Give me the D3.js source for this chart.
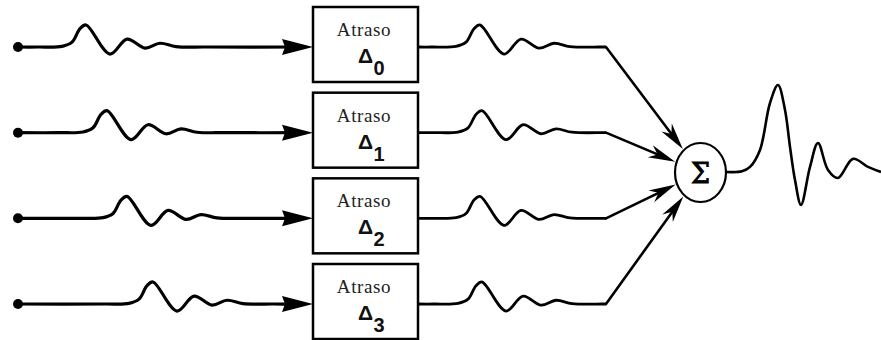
<!DOCTYPE html>
<html>
<head>
<meta charset="utf-8">
<script src="https://cdn.jsdelivr.net/npm/d3@7"></script>
<style>
  html, body { margin: 0; padding: 0; background: #fff; }
  svg { display: block; }
</style>
</head>
<body>
<svg id="fig" width="881" height="340"></svg>
<script>
// Delay-and-sum: four sensor channels, each passed through a delay block,
// then added together in a summing node.
const channels = [0, 1, 2, 3];
const delayLabels = ["0", "1", "2", "3"];
const boxTitle = "Atraso";
const sumSymbol = "\u03A3";
const deltaSymbol = "\u0394";

// One wavelet: time relative to its main peak, and normalised amplitude
const waveT = [-2.4, -1.2, -0.7, -0.3, 0, 1.2, 2.05, 2.95, 3.7, 4.5, 6];
const waveA = [0, 0.03, 0.22, 0.83, 1, -0.32, 0.36, -0.05, 0.17, 0.02, 0];

// Time of the wavelet peak on each input line (arrives later on each sensor)
const arrivalT = [3.4, 4.45, 5.45, 6.75];
// Time of the wavelet peak on each output line (after the delays: aligned)
const alignedT = [3.1, 3.2, 3.1, 3.2];

// Summed trace leaving the summing node
const sumT = [0, 0.8, 1.2, 1.7, 2.2, 2.6, 2.95, 3.2, 3.45, 3.75, 4.2, 4.6, 5.1, 5.6, 6.35, 7.1, 7.75];
const sumA = [0, 0.03, 0.22, 0.96, 3.0, 3.78, 2.7, 1.09, -0.35, -1.43, 0.22, 1.26, 0.09, -0.26, 0.57, 0.22, 0];

const svg = d3.select("#fig");

// Scales
const rowY = d3.scalePoint().domain(channels).range([47, 304]);
const amp = d3.scaleLinear().domain([0, 1]).range([0, -22]);
const xIn = d3.scaleLinear().domain([0, 14.75]).range([18, 313]);
const xOut = d3.scaleLinear().domain([0, 9.4]).range([418, 606]);
const xSum = d3.scaleLinear().domain([0, 7.75]).range([726, 881]);
const ySum = d3.scaleLinear().domain([0, 1]).range([172, 149]);

const smooth = d3.curveCatmullRom.alpha(0.5);

const node = { cx: 700.5, cy: 172.5, rx: 25.5, ry: 29.5 };
const box = { x: 313, w: 105, top: -40, h: 75 };

function trace(peakT, tEnd) {
  const pts = [[0, 0]];
  waveT.forEach((t, k) => pts.push([peakT + t, waveA[k]]));
  pts.push([tEnd, 0]);
  return pts;
}

function arrowHead(tx, ty, ux, uy, L, W, N) {
  const px = -uy, py = ux;
  const bx = tx - ux * L, by = ty - uy * L;
  return [
    [tx, ty],
    [bx + px * W, by + py * W],
    [tx - ux * (L - N), ty - uy * (L - N)],
    [bx - px * W, by - py * W]
  ];
}

const poly = d3.line().curve(d3.curveLinearClosed);

channels.forEach(i => {
  const y0 = rowY(i);

  // input line with its wavelet
  const lineIn = d3.line()
    .x(d => xIn(d[0]))
    .y(d => y0 + amp(d[1]))
    .curve(smooth);
  svg.append("path")
    .attr("d", lineIn(trace(arrivalT[i], xIn.invert(300))))
    .attr("fill", "none").attr("stroke", "#000")
    .attr("stroke-width", 3.2).attr("stroke-linejoin", "round");

  // sensor dot
  svg.append("circle")
    .attr("cx", xIn(0)).attr("cy", y0).attr("r", 5).attr("fill", "#000");

  // arrow into the delay block
  svg.append("path")
    .attr("d", poly(arrowHead(xIn(14.75), y0, 1, 0, 31, 8, 3)))
    .attr("fill", "#000");

  // delay block
  const top = y0 + box.top;
  svg.append("rect")
    .attr("x", box.x).attr("y", top)
    .attr("width", box.w).attr("height", box.h)
    .attr("fill", "#fff").attr("stroke", "#000").attr("stroke-width", 2.5);

  svg.append("text")
    .attr("x", box.x + 51).attr("y", top + 29)
    .attr("text-anchor", "middle")
    .attr("font-family", "'Liberation Serif', 'DejaVu Serif', serif")
    .attr("font-size", 19).attr("letter-spacing", 0.6)
    .attr("fill", "#222")
    .text(boxTitle);

  const d = svg.append("text")
    .attr("x", box.x + 45).attr("y", top + 56)
    .attr("font-family", "'Liberation Sans', Arial, sans-serif")
    .attr("font-weight", "bold").attr("fill", "#111");
  d.append("tspan").attr("font-size", 21).text(deltaSymbol);
  d.append("tspan").attr("font-size", 20).attr("dy", 12).attr("dx", 0.5).text(delayLabels[i]);

  // output line with its (aligned) wavelet
  const lineOut = d3.line()
    .x(p => xOut(p[0]))
    .y(p => y0 + amp(p[1]))
    .curve(smooth);
  svg.append("path")
    .attr("d", lineOut(trace(alignedT[i], 9.4)))
    .attr("fill", "none").attr("stroke", "#000")
    .attr("stroke-width", 2.8).attr("stroke-linejoin", "round");

  // straight run into the summing node, aimed at its centre
  const sx = xOut(9.4), sy = y0;
  const dx = node.cx - sx, dy = node.cy - sy;
  const len = Math.hypot(dx, dy);
  const ux = dx / len, uy = dy / len;
  const k = 1 / Math.hypot(ux / node.rx, uy / node.ry);
  const tx = node.cx - ux * (k + 1.5), ty = node.cy - uy * (k + 1.5);
  svg.append("line")
    .attr("x1", sx).attr("y1", sy)
    .attr("x2", tx - ux * 12).attr("y2", ty - uy * 12)
    .attr("stroke", "#000").attr("stroke-width", 2.6).attr("stroke-linecap", "round");
  svg.append("path")
    .attr("d", poly(arrowHead(tx, ty, ux, uy, 27, 6.5, 8)))
    .attr("fill", "#000");
});

// summing node
svg.append("ellipse")
  .attr("cx", node.cx).attr("cy", node.cy)
  .attr("rx", node.rx).attr("ry", node.ry)
  .attr("fill", "#fff").attr("stroke", "#000").attr("stroke-width", 2.2);

svg.append("text")
  .attr("x", node.cx).attr("y", node.cy + 10)
  .attr("text-anchor", "middle")
  .attr("font-family", "'DejaVu Serif', 'Liberation Serif', serif")
  .attr("font-size", 27)
  .attr("stroke", "#000").attr("stroke-width", 0.9)
  .attr("fill", "#000")
  .text(sumSymbol);

// summed trace
const lineSum = d3.line()
  .x((t, k) => xSum(t))
  .y((t, k) => ySum(sumA[k]))
  .curve(smooth);
svg.append("path")
  .attr("d", lineSum(sumT))
  .attr("fill", "none").attr("stroke", "#000")
  .attr("stroke-width", 2.6).attr("stroke-linejoin", "round");
</script>
</body>
</html>
